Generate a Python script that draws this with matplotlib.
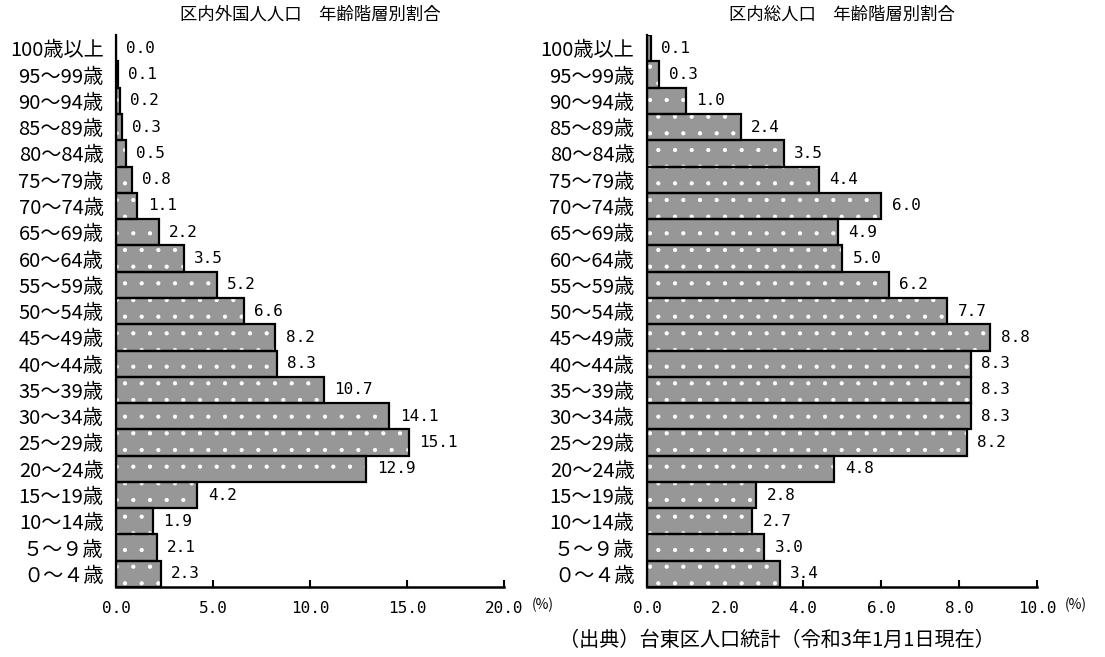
import numpy as np
import matplotlib
matplotlib.use('Agg')
import matplotlib.pyplot as plt

plt.rcParams['font.family'] = ['Noto Sans CJK JP', 'DejaVu Sans']
plt.rcParams['hatch.linewidth'] = 0.6

ages = ['０～４歳', '５～９歳', '10～14歳', '15～19歳', '20～24歳', '25～29歳',
        '30～34歳', '35～39歳', '40～44歳', '45～49歳', '50～54歳', '55～59歳',
        '60～64歳', '65～69歳', '70～74歳', '75～79歳', '80～84歳', '85～89歳',
        '90～94歳', '95～99歳', '100歳以上']

foreign = [2.3, 2.1, 1.9, 4.2, 12.9, 15.1, 14.1, 10.7, 8.3, 8.2, 6.6,
           5.2, 3.5, 2.2, 1.1, 0.8, 0.5, 0.3, 0.2, 0.1, 0.0]
total = [3.4, 3.0, 2.7, 2.8, 4.8, 8.2, 8.3, 8.3, 8.3, 8.8, 7.7,
         6.2, 5.0, 4.9, 6.0, 4.4, 3.5, 2.4, 1.0, 0.3, 0.1]

titles = ['区内外国人人口　年齢階層別割合', '区内総人口　年齢階層別割合']
xmax = [20.0, 10.0]
xticks = [[0, 5, 10, 15, 20], [0, 2, 4, 6, 8, 10]]
source = '（出典）台東区人口統計（令和3年1月1日現在）'

num_font = 'DejaVu Sans Mono'

fig = plt.figure(figsize=(11.05, 6.57), dpi=100)
ax1 = fig.add_axes([0.105, 0.1065, 0.351, 0.840])
ax2 = fig.add_axes([0.5855, 0.1065, 0.353, 0.840])

y = np.arange(len(ages))
for ax, vals, title, xm, xt in zip([ax1, ax2], [foreign, total], titles, xmax, xticks):
    # gray bars with white dot pattern, then black outlines on top
    ax.barh(y, vals, height=1.0, color='#979797', edgecolor='white',
            hatch='.', linewidth=0, zorder=2)
    ax.barh(y, vals, height=1.0, fill=False, edgecolor='black',
            linewidth=1.6, zorder=3)
    for yi, v in zip(y, vals):
        ax.text(v + xm * 0.027, yi, f'{v:.1f}', va='center', ha='left',
                fontsize=11.5, family=num_font)
    ax.set_xlim(0, xm)
    ax.set_ylim(-0.5, len(ages) - 0.5)
    ax.set_xticks(xt)
    ax.set_xticklabels([f'{t:.1f}' for t in xt], fontsize=11.5, family=num_font)
    ax.set_yticks(y)
    ax.set_yticklabels(ages, fontsize=14.5)
    ax.tick_params(axis='y', length=0, pad=9)
    ax.tick_params(axis='x', direction='in', length=5, width=1.5, pad=10)
    for s in ['top', 'right']:
        ax.spines[s].set_visible(False)
    ax.spines['bottom'].set_linewidth(1.8)
    ax.spines['left'].set_linewidth(1.6)
    ax.set_title(title, fontsize=12.5, pad=11)
    ax.annotate('(%)', xy=(1.0, 0), xycoords='axes fraction',
                xytext=(20, -13), textcoords='offset points',
                ha='left', va='center', fontsize=10)

fig.text(0.506, 0.026, source, ha='left', va='center', fontsize=14.5)

fig.savefig('out.png', dpi=100)
